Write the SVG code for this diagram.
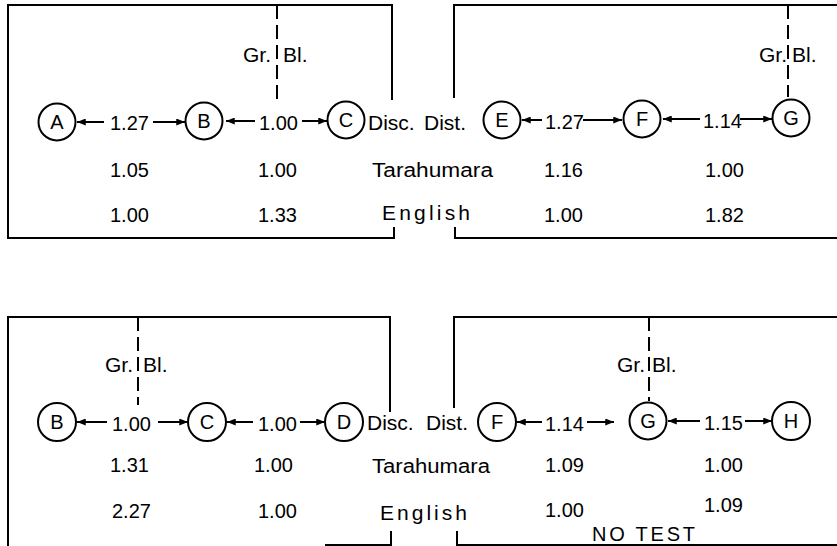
<svg xmlns="http://www.w3.org/2000/svg" width="837" height="546" viewBox="0 0 837 546">
<style>
.frame{fill:none;stroke:#000;stroke-width:2}
.dash{fill:none;stroke:#000;stroke-width:2;stroke-dasharray:14 6}
.node circle{fill:#fff;stroke:#000;stroke-width:2}
.node text{font-family:"Liberation Sans",Arial,sans-serif;font-size:20px;text-anchor:middle;fill:#000}
.arr{stroke:#000;stroke-width:2;fill:none;marker-end:url(#ah)}
.t{font-family:"Liberation Sans",Arial,sans-serif;font-size:20px;fill:#000}
.l{font-family:"Liberation Sans",Arial,sans-serif;font-size:21px;fill:#000}
</style>
<defs>
<marker id="ah" viewBox="0 0 10 8" refX="10" refY="4" markerWidth="5" markerHeight="3.5" orient="auto" markerUnits="strokeWidth">
<path d="M0,0 L10,4 L0,8 Z" fill="#000"/>
</marker>
</defs>
<rect width="837" height="546" fill="#fff"/>

<g id="frames">
<path class="frame" d="M392,100 V5 H8 V238 H394 V227"/>
<path class="frame" d="M454,98 V5 H837 M455,227 V238 H837"/>
<path class="frame" d="M390,412 V317 H8 V546 M325,545 H391 V531"/>
<path class="frame" d="M454,408 V317 H837 M457,531 V545 H837"/>
<line class="dash" x1="277" y1="5" x2="277" y2="105"/>
<line class="dash" x1="788" y1="5" x2="788" y2="97"/>
<line class="dash" x1="138" y1="317" x2="138" y2="405"/>
<line class="dash" x1="649" y1="317" x2="649" y2="401"/>
</g>

<g id="connectors">
<line class="arr" x1="104" y1="122" x2="77" y2="122"/>
<line class="arr" x1="153" y1="122" x2="185" y2="122"/>
<line class="arr" x1="255" y1="121" x2="226" y2="121"/>
<line class="arr" x1="302" y1="121" x2="327" y2="121"/>
<line class="arr" x1="542" y1="120" x2="522" y2="120"/>
<line class="arr" x1="583" y1="120" x2="622" y2="120"/>
<line class="arr" x1="700" y1="119" x2="663" y2="119"/>
<line class="arr" x1="740" y1="119" x2="772" y2="119"/>

<line class="arr" x1="107" y1="422" x2="77" y2="422"/>
<line class="arr" x1="158" y1="422" x2="188" y2="422"/>
<line class="arr" x1="253" y1="422" x2="227" y2="422"/>
<line class="arr" x1="300" y1="422" x2="325" y2="422"/>
<line class="arr" x1="542" y1="422" x2="517" y2="422"/>
<line class="arr" x1="587" y1="422" x2="614" y2="422"/>
<line class="arr" x1="700" y1="421" x2="668" y2="421"/>
<line class="arr" x1="745" y1="421" x2="772" y2="421"/>
</g>

<g id="nA" class="node"><circle cx="57" cy="122" r="18.5"/><text x="57" y="129">A</text></g>
<g id="nB1" class="node"><circle cx="204" cy="121" r="18.5"/><text x="204" y="128">B</text></g>
<g id="nC1" class="node"><circle cx="346" cy="120" r="18.5"/><text x="346" y="127">C</text></g>
<g id="nE" class="node"><circle cx="502" cy="120" r="18.5"/><text x="502" y="127">E</text></g>
<g id="nF1" class="node"><circle cx="642" cy="119" r="18.5"/><text x="642" y="126">F</text></g>
<g id="nG1" class="node"><circle cx="791" cy="118" r="18.5"/><text x="791" y="125">G</text></g>

<g id="nB2" class="node"><circle cx="57" cy="422" r="19"/><text x="57" y="429">B</text></g>
<g id="nC2" class="node"><circle cx="207" cy="422" r="19"/><text x="207" y="429">C</text></g>
<g id="nD" class="node"><circle cx="344" cy="422" r="19"/><text x="344" y="429">D</text></g>
<g id="nF2" class="node"><circle cx="497" cy="422" r="19"/><text x="497" y="429">F</text></g>
<g id="nG2" class="node"><circle cx="648" cy="421" r="18.5"/><text x="648" y="428">G</text></g>
<g id="nH" class="node"><circle cx="791" cy="421" r="19"/><text x="791" y="428">H</text></g>

<g id="labels-top">
<text class="l" x="243" y="62">Gr.</text>
<text class="l" x="283" y="62">Bl.</text>
<text class="l" x="759" y="62">Gr.</text>
<text class="l" x="792" y="62">Bl.</text>
<text class="t" x="110" y="130">1.27</text>
<text class="t" x="259" y="130">1.00</text>
<text class="t" x="545" y="129">1.27</text>
<text class="t" x="703" y="128">1.14</text>
<text class="l" x="368" y="130">Disc.</text>
<text class="l" x="424" y="130">Dist.</text>
<text class="t" x="110" y="177">1.05</text>
<text class="t" x="258" y="177">1.00</text>
<text class="t" x="372" y="177" textLength="121" lengthAdjust="spacingAndGlyphs">Tarahumara</text>
<text class="t" x="544" y="177">1.16</text>
<text class="t" x="705" y="177">1.00</text>
<text class="t" x="110" y="222">1.00</text>
<text class="t" x="258" y="222">1.33</text>
<text class="l" x="382" y="220" font-size="23" textLength="88">English</text>
<text class="t" x="544" y="222">1.00</text>
<text class="t" x="705" y="222">1.82</text>
</g>

<g id="labels-bottom">
<text class="l" x="105" y="372">Gr.</text>
<text class="l" x="143" y="372">Bl.</text>
<text class="l" x="617" y="372">Gr.</text>
<text class="l" x="652" y="372">Bl.</text>
<text class="t" x="112" y="431">1.00</text>
<text class="t" x="258" y="431">1.00</text>
<text class="t" x="545" y="431">1.14</text>
<text class="t" x="704" y="430">1.15</text>
<text class="l" x="367" y="430">Disc.</text>
<text class="l" x="426" y="430">Dist.</text>
<text class="t" x="110" y="472">1.31</text>
<text class="t" x="254" y="472">1.00</text>
<text class="t" x="372" y="473" textLength="118" lengthAdjust="spacingAndGlyphs">Tarahumara</text>
<text class="t" x="545" y="472">1.09</text>
<text class="t" x="704" y="472">1.00</text>
<text class="t" x="112" y="518">2.27</text>
<text class="t" x="258" y="518">1.00</text>
<text class="l" x="380" y="520" font-size="23" textLength="87">English</text>
<text class="t" x="545" y="517">1.00</text>
<text class="t" x="704" y="512">1.09</text>
<text class="t" x="592" y="541" textLength="103">NO TEST</text>
</g>
</svg>
